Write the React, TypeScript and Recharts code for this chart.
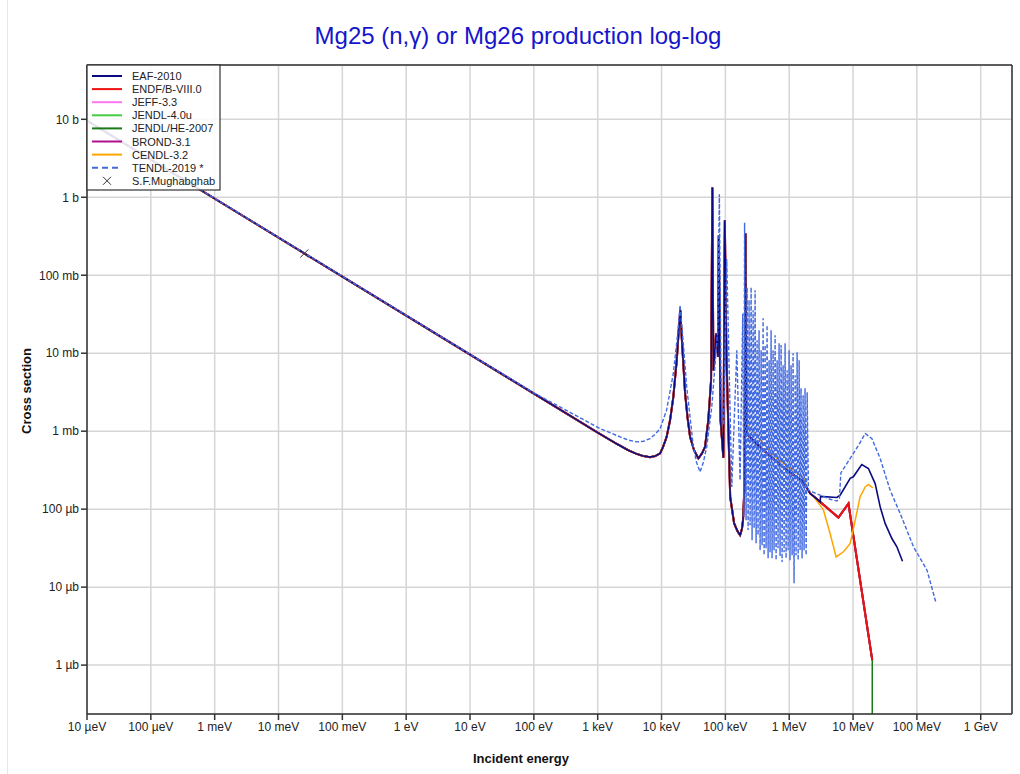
import React from "react";
import { ComposedChart, Line, Scatter, XAxis, YAxis, CartesianGrid } from "recharts";

type Pt = [number, number];

// energies in eV, cross sections in barn
const xTicks = [1e-5, 1e-4, 1e-3, 1e-2, 1e-1, 1, 10, 100, 1e3, 1e4, 1e5, 1e6, 1e7, 1e8, 1e9];
const xTickLabels = [
  "10 µeV", "100 µeV", "1 meV", "10 meV", "100 meV", "1 eV", "10 eV", "100 eV",
  "1 keV", "10 keV", "100 keV", "1 MeV", "10 MeV", "100 MeV", "1 GeV",
];
const yTicks = [1e-6, 1e-5, 1e-4, 1e-3, 1e-2, 1e-1, 1, 10];
const yTickLabels = ["1 µb", "10 µb", "100 µb", "1 mb", "10 mb", "100 mb", "1 b", "10 b"];

// shared by most evaluations up to the 207 keV resonance
const commonLow: Pt[] = [
  [1e-5, 9.6], [1e3, 9.6e-4], [2e3, 6.85e-4], [3e3, 5.7e-4], [4e3, 5.15e-4], [5e3, 4.85e-4],
  [6.6e3, 4.65e-4], [8e3, 4.8e-4], [9.5e3, 5.2e-4], [1.05e4, 6.2e-4], [1.2e4, 8.4e-4],
  [1.36e4, 1.38e-3], [1.53e4, 2.75e-3], [1.73e4, 8.1e-3], [1.86e4, 0.0197], [1.97e4, 0.0356],
  [2.07e4, 0.0162], [2.34e4, 3.04e-3], [2.56e4, 1.47e-3], [2.8e4, 8.45e-4], [3.23e4, 5.7e-4],
  [3.78e4, 4.47e-4], [4.31e4, 5.2e-4], [4.8e4, 6.3e-4], [5.4e4, 1.38e-3], [5.97e4, 4.5e-3],
  [6.25e4, 1.33], [6.49e4, 6.0e-3], [7.15e4, 0.0179], [7.68e4, 8.97e-3], [7.88e4, 0.326],
  [8.4e4, 1.38e-3], [9.3e4, 4.55e-4], [9.8e4, 0.507], [1.04e5, 8.97e-3], [1.19e5, 1.44e-4],
  [1.37e5, 6.6e-5], [1.55e5, 5.2e-5], [1.7e5, 4.64e-5], [1.82e5, 5.6e-5], [1.89e5, 7.24e-5],
  [2.01e5, 2.35e-4], [2.07e5, 0.343],
];
const commonMid: Pt[] = [
  [2.14e5, 9.3e-4], [3.5e5, 6.24e-4], [6.01e5, 4.25e-4], [9.16e5, 3.16e-4],
  [1.67e6, 2.24e-4], [2.13e6, 1.59e-4], [3.05e6, 1.24e-4],
];
const endfHigh: Pt[] = [[5.9e6, 7.8e-5], [8.47e6, 1.18e-4], [2e7, 1.16e-6]];
const jendlHeEnd: Pt[] = [[2e7, 1e-9]];
const eafHigh: Pt[] = [
  [3.1e6, 1.46e-4], [5.57e6, 1.41e-4], [6.28e6, 1.51e-4], [9.02e6, 2.48e-4], [1.01e7, 2.6e-4],
  [1.37e7, 3.74e-4], [1.74e7, 3.32e-4], [2.22e7, 2.13e-4], [2.66e7, 1.07e-4], [3.18e7, 6.56e-5],
  [4.06e7, 4.2e-5], [4.86e7, 3.29e-5], [5.95e7, 2.15e-5],
];
const cendlHigh: Pt[] = [
  [2.16e5, 1.23e-3], [6.4e5, 4.47e-4], [1.67e6, 2.55e-4], [2.0e6, 1.75e-4], [3.05e6, 1.12e-4],
  [3.44e6, 9.7e-5], [4.37e6, 4.88e-5], [5.43e6, 2.44e-5], [7.08e6, 2.84e-5], [9.02e6, 3.63e-5],
  [1.08e7, 7.2e-5], [1.29e7, 1.44e-4], [1.55e7, 1.93e-4], [1.74e7, 2.07e-4], [2.04e7, 1.87e-4],
];
const tendlLow: Pt[] = [
  [1e-5, 9.7], [10, 9.7e-3], [100, 3.1e-3], [1.09e3, 1.08e-3], [2.24e3, 8.45e-4], [3e3, 7.7e-4],
  [4.08e3, 7.3e-4], [5.2e3, 7.4e-4], [6.6e3, 8.05e-4], [8e3, 9.2e-4], [9.5e3, 1.08e-3],
  [1.2e4, 1.86e-3], [1.53e4, 5.5e-3], [1.77e4, 0.0162], [1.95e4, 0.0412], [2.15e4, 0.0162],
  [2.48e4, 3.7e-3], [3.15e4, 6.3e-4], [3.53e4, 4.0e-4], [4.01e4, 3.0e-4], [4.52e4, 4.0e-4],
  [5.1e4, 6.3e-4], [6.12e4, 2.05e-3], [7.6e4, 0.02], [8.05e4, 1.09], [8.6e4, 2.5e-3],
  [9.4e4, 1.2e-3], [1.05e5, 0.16], [1.26e5, 1.93e-4], [1.51e5, 0.0109], [1.7e5, 2.35e-4],
  [1.87e5, 0.0323], [1.95e5, 8e-5], [2.0e5, 0.47],
];
const tendlUrr: Pt[] = [
  [2.11e5, 7.2e-5], [2.19e5, 0.07], [2.27e5, 5.4e-5], [2.35e5, 0.048], [2.44e5, 6.2e-5],
  [2.53e5, 0.07], [2.62e5, 4.0e-5], [2.72e5, 0.0356], [2.82e5, 5.7e-5], [2.92e5, 0.0643],
  [3.03e5, 3.66e-5], [3.14e5, 0.0147], [3.25e5, 4.64e-5], [3.37e5, 0.0197], [3.5e5, 2.98e-5],
  [3.63e5, 0.0109], [3.76e5, 3.45e-5], [3.9e5, 0.0281], [4.04e5, 2.57e-5], [4.19e5, 0.0127],
  [4.34e5, 3.16e-5], [4.5e5, 0.0229], [4.67e5, 2.35e-5], [4.84e5, 8.1e-3], [5.01e5, 2.81e-5],
  [5.2e5, 0.0197], [5.39e5, 2.35e-5], [5.59e5, 0.0109], [5.79e5, 2.98e-5], [6.01e5, 0.017],
  [6.23e5, 2.22e-5], [6.46e5, 8.1e-3], [6.69e5, 3.16e-5], [6.94e5, 0.0134], [7.19e5, 2.5e-5],
  [7.46e5, 0.0127], [7.73e5, 2.1e-5], [8.02e5, 7.0e-3], [8.31e5, 2.81e-5], [8.62e5, 0.0134],
  [8.93e5, 2.35e-5], [9.27e5, 6.05e-3], [9.6e5, 2.98e-5], [9.96e5, 0.0109], [1.03e6, 2.22e-5],
  [1.07e6, 7.0e-3], [1.11e6, 2.57e-5], [1.15e6, 0.01], [1.19e6, 1.12e-5], [1.24e6, 5.2e-3],
  [1.28e6, 2.57e-5], [1.33e6, 0.0103], [1.38e6, 2.22e-5], [1.43e6, 8.1e-3], [1.48e6, 2.98e-5],
  [1.53e6, 3.56e-3], [1.59e6, 2.35e-5], [1.65e6, 2.9e-3], [1.71e6, 2.98e-5], [1.77e6, 3.56e-3],
  [1.84e6, 2.57e-5], [1.91e6, 3.16e-3],
];
const tendlHigh: Pt[] = [
  [2.0e6, 1.75e-4], [3.05e6, 1.51e-4], [4.37e6, 1.34e-4], [5.57e6, 1.27e-4], [6.12e6, 1.37e-4],
  [6.44e6, 2.92e-4], [9.02e6, 4.47e-4], [1.22e7, 6.62e-4], [1.55e7, 9.33e-4], [1.97e7, 8.05e-4],
  [2.66e7, 4.47e-4], [3.81e7, 1.75e-4], [5.47e7, 8.8e-5], [8.85e7, 3.29e-5], [1.44e8, 1.65e-5],
  [2.0e8, 6.23e-6],
];
const mughabghab: Pt[] = [[0.0253, 0.19]];

const rows = (pts: Pt[]) => pts.map(([x, y]) => ({ x, y }));
const endfAll = [...commonLow, ...commonMid, ...endfHigh];

// drawing order: first is at the bottom
const series = [
  { name: "JEFF-3.3", color: "#ff77ee", width: 2, data: endfAll },
  { name: "JENDL-4.0u", color: "#44cc44", width: 2, data: endfAll },
  { name: "JENDL/HE-2007", color: "#1a7a1a", width: 1.5, data: [...endfAll, ...jendlHeEnd] },
  { name: "BROND-3.1", color: "#b0108f", width: 2, data: endfAll },
  { name: "ENDF/B-VIII.0", color: "#ee1111", width: 2, data: endfAll },
  { name: "CENDL-3.2", color: "#ffa500", width: 1.5, data: [...commonLow, ...cendlHigh] },
  { name: "EAF-2010", color: "#0a0a80", width: 1.6, data: [...commonLow, ...commonMid, ...eafHigh] },
];
const tendl = [...tendlLow, ...tendlUrr, ...tendlHigh];

const legendItems = [
  { name: "EAF-2010", color: "#0a0a80" },
  { name: "ENDF/B-VIII.0", color: "#ee1111" },
  { name: "JEFF-3.3", color: "#ff77ee" },
  { name: "JENDL-4.0u", color: "#44cc44" },
  { name: "JENDL/HE-2007", color: "#1a7a1a" },
  { name: "BROND-3.1", color: "#b0108f" },
  { name: "CENDL-3.2", color: "#ffa500" },
  { name: "TENDL-2019 *", color: "#4169e1", dashed: true },
  { name: "S.F.Mughabghab", color: "#333", marker: true },
];

const FONT = "'Liberation Sans', Arial, sans-serif";
const xDomain: [number, number] = [1e-5, 3.09e9];
const yDomain: [number, number] = [2.36e-7, 49.7];

const fmtX = (v: number) => xTickLabels[xTicks.indexOf(v)] ?? "";
const fmtY = (v: number) => yTickLabels[yTicks.indexOf(v)] ?? "";

function XMark(props: any) {
  const { cx, cy } = props;
  if (cx == null || cy == null) return null;
  return (
    <g stroke="#333" strokeWidth={1}>
      <line x1={cx - 4} y1={cy - 4} x2={cx + 4} y2={cy + 4} />
      <line x1={cx - 4} y1={cy + 4} x2={cx + 4} y2={cy - 4} />
    </g>
  );
}

const axisStroke = { stroke: "#333", strokeWidth: 1.5 };
const tickStyle = { fontSize: 12, fill: "#222", fontFamily: FONT };

export default function App() {
  return (
    <div style={{ position: "absolute", left: 0, top: 0, width: 1020, height: 774, background: "#fff", fontFamily: FONT }}>
      <div style={{ position: "absolute", left: 7, top: 0, width: 1, height: 774, background: "#e6e6e6" }} />
      <ComposedChart width={1020} height={774} margin={{ top: 65, right: 8, bottom: 30, left: 27 }}>
        <CartesianGrid stroke="#d6d6d6" strokeWidth={1.5} />
        <XAxis
          dataKey="x"
          type="number"
          scale="log"
          domain={xDomain}
          allowDataOverflow
          ticks={xTicks}
          interval={0}
          tickFormatter={fmtX}
          tick={tickStyle}
          tickLine={axisStroke}
          axisLine={axisStroke}
          height={30}
        />
        <XAxis
          xAxisId="top"
          orientation="top"
          mirror
          dataKey="x"
          type="number"
          scale="log"
          domain={xDomain}
          allowDataOverflow
          ticks={xTicks}
          interval={0}
          tick={false}
          tickLine={axisStroke}
          axisLine={axisStroke}
        />
        <YAxis
          dataKey="y"
          type="number"
          scale="log"
          domain={yDomain}
          allowDataOverflow
          ticks={yTicks}
          interval={0}
          tickFormatter={fmtY}
          tick={tickStyle}
          tickLine={axisStroke}
          axisLine={axisStroke}
          width={60}
        />
        <YAxis
          yAxisId="right"
          orientation="right"
          mirror
          type="number"
          scale="log"
          domain={yDomain}
          allowDataOverflow
          ticks={yTicks}
          interval={0}
          tick={false}
          tickLine={axisStroke}
          axisLine={axisStroke}
        />
        {series.map((s) => (
          <Line
            key={s.name}
            data={rows(s.data)}
            dataKey="y"
            type="linear"
            stroke={s.color}
            strokeWidth={s.width}
            dot={false}
            isAnimationActive={false}
          />
        ))}
        <Line
          data={rows(tendl)}
          dataKey="y"
          type="linear"
          stroke="#4169e1"
          strokeWidth={1.4}
          strokeDasharray="4 2"
          dot={false}
          isAnimationActive={false}
        />
        <Scatter data={rows(mughabghab)} dataKey="y" shape={XMark} isAnimationActive={false} />
      </ComposedChart>
      <svg width={1020} height={774} style={{ position: "absolute", left: 0, top: 0, pointerEvents: "none" }}>
        <text x={518} y={44} textAnchor="middle" fontSize={24} fill="#1515cc" fontFamily={FONT}>
          Mg25 (n,γ) or Mg26 production log-log
        </text>
        <text x={31} y={391} textAnchor="middle" fontSize={13} fontWeight="bold" fill="#111" fontFamily={FONT} transform="rotate(-90 31 391)">
          Cross section
        </text>
        <text x={521} y={763} textAnchor="middle" fontSize={13} fontWeight="bold" fill="#111" fontFamily={FONT}>
          Incident energy
        </text>
        <rect x={87} y={65} width={133} height={125} fill="#fff" fillOpacity={0.85} stroke="#333" strokeWidth={1.2} />
        {legendItems.map((it, i) => {
          const y = 76 + i * 13.1;
          return (
            <g key={it.name}>
              {it.marker ? (
                <g stroke="#333" strokeWidth={1}>
                  <line x1={103} y1={y - 4} x2={111} y2={y + 4} />
                  <line x1={103} y1={y + 4} x2={111} y2={y - 4} />
                </g>
              ) : (
                <line x1={92} x2={122} y1={y} y2={y} stroke={it.color} strokeWidth={2} strokeDasharray={it.dashed ? "6 4" : undefined} />
              )}
              <text x={132} y={y + 4} fontSize={11} fill="#222" fontFamily={FONT}>
                {it.name}
              </text>
            </g>
          );
        })}
      </svg>
    </div>
  );
}
